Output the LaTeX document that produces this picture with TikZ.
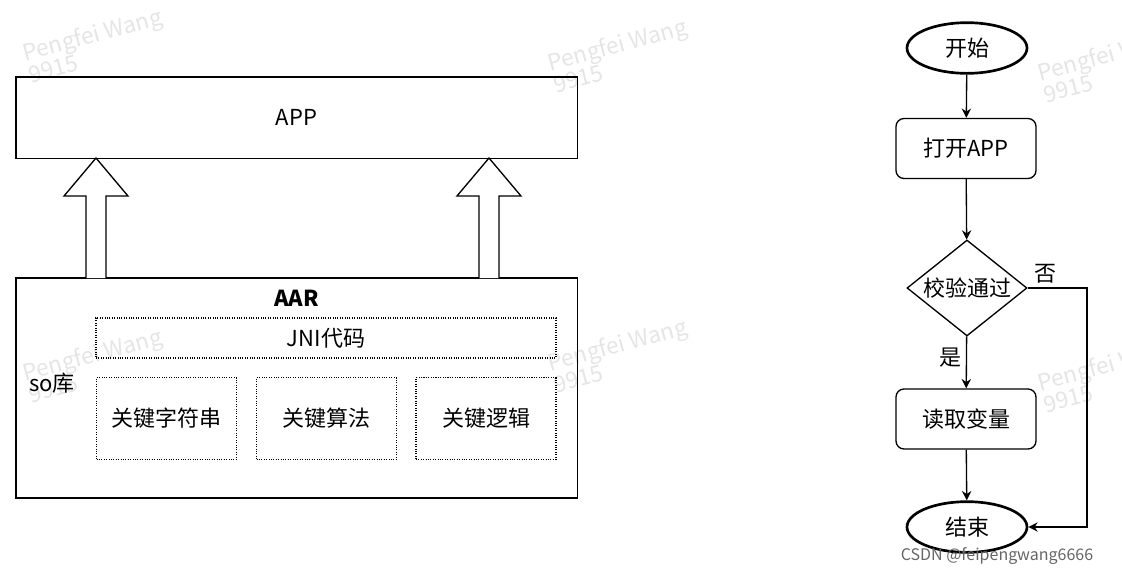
\documentclass[tikz,border=0pt]{standalone}
\usepackage{fontspec}
\setmainfont{Noto Sans CJK SC}
\usetikzlibrary{shapes.geometric,arrows.meta}
\begin{document}
\begin{tikzpicture}[x=0.75pt,y=-0.75pt,
  box/.style={draw,line width=1pt,inner sep=0},
  dbox/.style={draw,densely dotted,line width=0.8pt},
  term/.style={draw,ellipse,line width=2pt,minimum width=90pt,minimum height=38pt,font=\fontsize{16.5}{16.5}\selectfont},
  proc/.style={draw,rounded corners=6pt,line width=1pt,minimum width=105pt,minimum height=45pt,font=\fontsize{16.5}{16.5}\selectfont},
  arr/.style={-{Stealth[length=7pt,width=7pt]},line width=1pt},
  wm/.style={text=black!10,rotate=15,font=\fontsize{17}{17}\selectfont,align=left},
  txt/.style={font=\fontsize{16.5}{16.5}\selectfont}]
\useasboundingbox (0,0) rectangle (1122,576);
\foreach \x/\y in {95/45, 620/55, 95/365, 620/355, 1110/65, 1110/375}
  \node[wm] at (\x,\y) {Pengfei Wang\\9915};
% left
\node[box,minimum width=421pt,minimum height=61pt] (app) at (296.5,117.5) {};
\node[txt] at (296.5,117.5) {APP};
\node[box,minimum width=421pt,minimum height=165pt] (aar) at (296.5,388) {};
\node[txt,font=\fontsize{16.5}{16.5}\selectfont\bfseries] (aart) at (296.5,298) {AAR};
\node[txt] (so) at (52,383) {so库};
\node[dbox,minimum width=345pt,minimum height=30pt] (jni) at (326,338) {};
\node[txt] at (326,338) {JNI代码};
\foreach \n/\x/\t in {a/166.5/关键字符串, b/326.5/关键算法, c/486/关键逻辑}{
  \node[dbox,minimum width=105pt,minimum height=61pt] (\n) at (\x,418.5) {};
  \node[txt] at (\x,418.5) {\t};
}
\foreach \cx in {96,489}
  \draw[line width=1pt,fill=white] (\cx-10,278) -- (\cx-10,196) -- (\cx-32,196) -- (\cx,158) -- (\cx+32,196) -- (\cx+10,196) -- (\cx+10,278);
% right
\node[term] (start) at (967,48) {开始};
\node[proc] (open) at (966,148.5) {打开APP};
\node[draw,diamond,aspect=1.25,line width=1pt,minimum width=90pt,minimum height=72pt,inner sep=0,txt] (chk) at (967,288) {校验通过};
\node[proc] (read) at (966,419) {读取变量};
\node[term] (end) at (967,527) {结束};
\draw[arr] (start) -- (open);
\draw[arr] (open) -- (chk);
\draw[arr] (chk) -- node[pos=0.4,left,txt]{是} (read);
\draw[arr] (read) -- (end);
\draw[arr] (chk.east) -- node[pos=0.3,above,txt]{否} (1087,288) -- (1087,527) -- (end.east);
\node[text=black!60,font=\fontsize{12}{12}\selectfont] at (997,556) {CSDN @feipengwang6666};
\end{tikzpicture}
\end{document}
